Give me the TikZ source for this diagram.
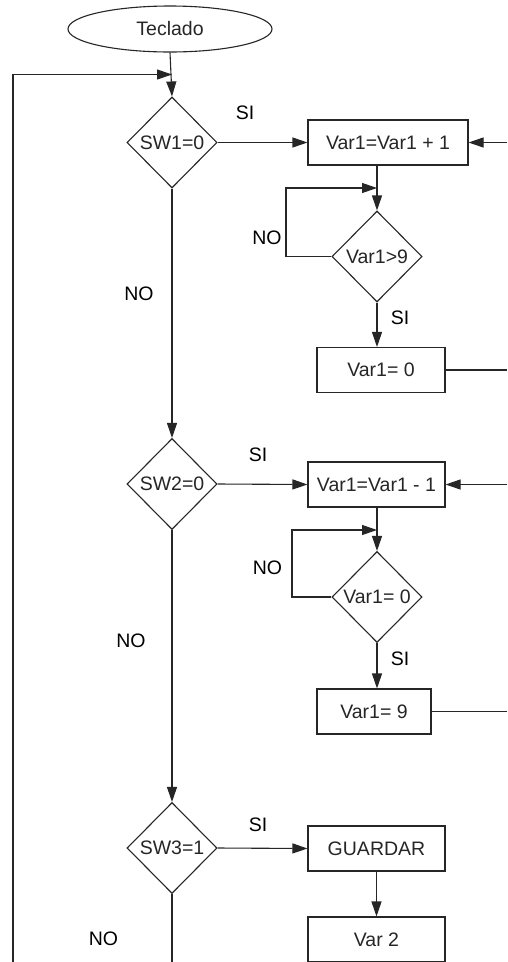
\documentclass[tikz,border=0pt]{standalone}
\usepackage{fontspec}
\setmainfont{Liberation Sans}
\usetikzlibrary{shapes.geometric,arrows.meta}
\begin{document}
\begin{tikzpicture}[x=1pt,y=-1pt,
  every node/.style={font=\fontsize{19.5}{23}\selectfont},
  line/.style={line width=1.1pt,black!85},
  arr/.style={line, -{Triangle[length=15pt,width=10pt]}},
  procbox/.style={draw,line width=1.1pt,black!85,rectangle,inner sep=0pt,minimum height=45pt},
  decision/.style={draw,line width=1.1pt,black!85,diamond,inner sep=0pt,minimum width=90pt,minimum height=91pt},
  startshape/.style={draw,line width=1.1pt,black!85,ellipse,inner sep=0pt,minimum width=204pt,minimum height=46pt},
  tag/.style={inner sep=0pt,anchor=center}]
\useasboundingbox (0,0) rectangle (507,962);
\fill[white] (0,0) rectangle (507,962);
\clip (0,0) rectangle (507,962);

% start
\node[startshape] (start) at (170,29) {Teclado};

% switch decisions
\node[decision] (sw1) at (172,142.5) {SW1=0};
\node[decision] (sw2) at (172,484) {SW2=0};
\node[decision] (sw3) at (172,848) {SW3=1};

% increment branch
\node[procbox,minimum width=160pt] (inc) at (388,142.5) {Var1=Var1 + 1};
\node[decision] (gt9) at (377,256.5) {Var1>9};
\node[procbox,minimum width=128pt] (zero) at (381,370) {Var1= 0};

% decrement branch
\node[procbox,minimum width=137pt] (dec) at (376.5,484.5) {Var1=Var1 - 1};
\node[decision] (eq0) at (377,597) {Var1= 0};
\node[procbox,minimum width=114pt] (nine) at (374,711.5) {Var1= 9};

% save branch
\node[procbox,minimum width=137pt] (save) at (376.5,848.5) {GUARDAR};
\node[procbox,minimum width=137pt] (var2) at (376.5,939.5) {Var 2};

% helper coordinates
\coordinate (loopbl) at (13,980);
\coordinate (loopbr) at (172,980);
\coordinate (looptl) at (13,74.5);
\coordinate (loopin) at (172,74.5);
\coordinate (incin) at (507,142.5);
\coordinate (zeroout) at (507,370);
\coordinate (decin) at (507,484.5);
\coordinate (nineout) at (507,711.5);
\coordinate (k1) at (286,188);
\coordinate (j1) at (377,188);
\coordinate (k2) at (292,530);
\coordinate (j2) at (377,530);

% main column
\draw[arr] (start.south) -- (sw1.north);
\draw[arr] (sw1.south) -- (sw2.north);
\draw[arr] (sw2.south) -- (sw3.north);
\draw[arr] (sw3.south) -- (loopbr) -- (loopbl) -- (looptl) -- (loopin);

% increment branch connectors
\draw[arr] (sw1.east) -- (inc.west);
\draw[arr] (incin) -- (inc.east);
\draw[arr] (inc.south -| gt9.north) -- (gt9.north);
\draw[arr] (gt9.west) -- (gt9.west -| k1) -- (k1) -- (j1);
\draw[arr] (gt9.south) -- (gt9.south |- zero.north);
\draw[line] (zero.east) -- (zeroout);

% decrement branch connectors
\draw[arr] (sw2.east) -- (dec.west);
\draw[arr] (decin) -- (dec.east);
\draw[arr] (dec.south -| eq0.north) -- (eq0.north);
\draw[arr] (eq0.west) -- (eq0.west -| k2) -- (k2) -- (j2);
\draw[arr] (eq0.south) -- (eq0.south |- nine.north);
\draw[line] (nine.east) -- (nineout);

% save branch connectors
\draw[arr] (sw3.east) -- (save.west);
\draw[arr] (save.south -| var2.north) -- (var2.north);

% branch labels
\node[tag] (si1) at (245,113) {SI};
\node[tag] (no1) at (139,294) {NO};
\node[tag] (no2) at (267,237.5) {NO};
\node[tag] (si2) at (400,318) {SI};
\node[tag] (si3) at (258,455) {SI};
\node[tag] (no3) at (131,641) {NO};
\node[tag] (no4) at (267.5,567.5) {NO};
\node[tag] (si4) at (400,659) {SI};
\node[tag] (si5) at (258,825) {SI};
\node[tag] (no5) at (103.5,938.5) {NO};
\end{tikzpicture}
\end{document}
